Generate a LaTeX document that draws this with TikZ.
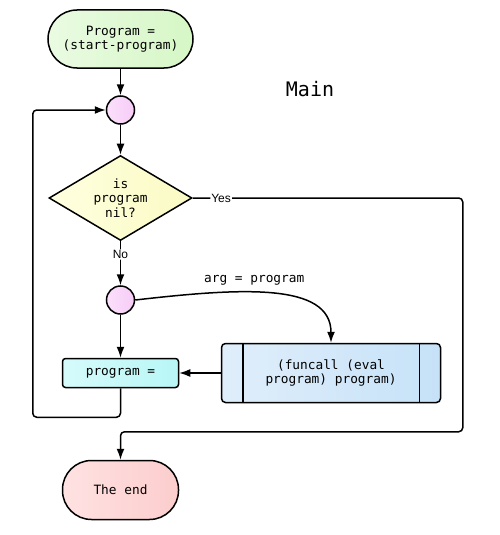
\documentclass[tikz,border=0pt]{standalone}
\usepackage{fontspec}
\setmainfont{Liberation Sans}
\newfontfamily\monof{DejaVu Sans Mono}
\usetikzlibrary{shapes.geometric,arrows.meta,calc}
\definecolor{stgreenL}{HTML}{EAFBE2}
\definecolor{stgreenR}{HTML}{D6F7C6}
\definecolor{dyelL}{HTML}{FFFFE0}
\definecolor{dyelR}{HTML}{FAFAC4}
\definecolor{circL}{HTML}{FBE0FB}
\definecolor{circR}{HTML}{F6CCF6}
\definecolor{cyanL}{HTML}{D6FBFB}
\definecolor{cyanR}{HTML}{B8F6F6}
\definecolor{blueL}{HTML}{E0EEFB}
\definecolor{blueR}{HTML}{C6E2F8}
\definecolor{pinkL}{HTML}{FFE2E2}
\definecolor{pinkR}{HTML}{FCCDCD}
\begin{document}
\begin{tikzpicture}[x=1pt,y=-1pt,
  base/.style={draw=black,line width=1.5pt,align=center,inner sep=0pt,
    font=\monof\fontsize{12.8}{14.5}\selectfont},
  term/.style={base,rounded corners=29pt,minimum width=145pt,minimum height=58pt},
  junc/.style={base,circle,minimum size=28pt,left color=circL,right color=circR},
  dec/.style={base,diamond,aspect=1.68,minimum width=143pt,minimum height=85pt,left color=dyelL,right color=dyelR},
  proc/.style={base,rounded corners=3pt,minimum width=116pt,minimum height=29pt,left color=cyanL,right color=cyanR},
  sub/.style={base,rounded corners=4pt,minimum width=219pt,minimum height=59pt,left color=blueL,right color=blueR},
  conn/.style={line width=1.5pt,rounded corners=4pt,-{Latex[length=11pt,width=8pt]}},
  lab/.style={fill=white,inner sep=1pt,font=\fontsize{12}{14}\selectfont},
  mlab/.style={font=\monof\fontsize{12.8}{14.5}\selectfont}
]
\useasboundingbox (0,0) rectangle (500,535);
\node[term,left color=stgreenL,right color=stgreenR] (start) at (120.5,39) {Program =\\(start-program)};
\node[junc] (c1) at (120.5,110) {};
\node[dec] (dia) at (120.5,198) {is\\program\\nil?};
\node[junc] (c2) at (120.5,300) {};
\node[proc] (pe) at (120.5,373) {program =};
\node[sub] (fc) at (331,373) {(funcall (eval\\program) program)};
\draw[line width=1.5pt] ([xshift=22pt]fc.north west) -- ([xshift=22pt]fc.south west);
\draw[line width=1.5pt] ([xshift=-22pt]fc.north east) -- ([xshift=-22pt]fc.south east);
\node[term,minimum width=116pt,minimum height=59pt,left color=pinkL,right color=pinkR] (endn) at (120.5,490) {The end};
\node[font=\monof\fontsize{20}{24}\selectfont] (title) at (310,89) {Main};

\draw[conn] (start) -- (c1);
\draw[conn] (c1) -- (dia);
\draw[conn] (dia.south) -- node[lab,pos=0.3] {No} (c2);
\draw[conn] (c2) -- (pe);
\draw[conn] (c2.east) .. controls (240,288) and (331,282) .. node[mlab,pos=0.42,above=3pt] {arg = program} (fc.north);
\draw[conn] (fc.west) -- (pe.east);
\draw[conn] (pe.south) -- ++(0,29) -| ([xshift=-73pt]c1.west) -- (c1.west);
\draw[conn] (dia.east) -- node[lab,pos=0.105] {Yes} ++(270,0) |- ([yshift=28pt]endn.north) -- (endn.north);
\end{tikzpicture}
\end{document}
